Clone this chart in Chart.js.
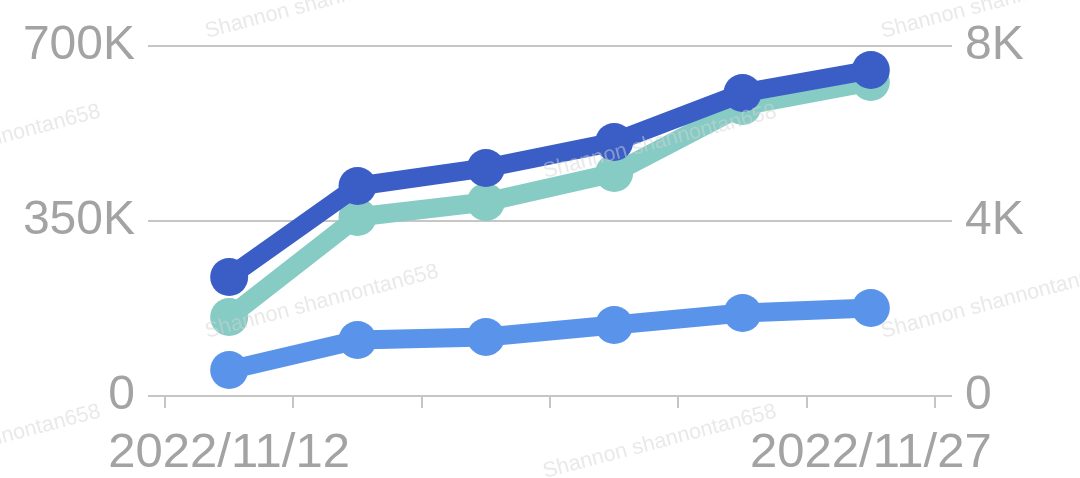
<!DOCTYPE html>
<html>
<head>
<meta charset="utf-8">
<script src="https://cdn.jsdelivr.net/npm/chart.js@4/dist/chart.umd.min.js"></script>
<style>
  html, body { margin: 0; padding: 0; background: #fff; }
  #wrap { width: 1080px; height: 478px; }
</style>
</head>
<body>
<div id="wrap"><canvas id="c"></canvas></div>
<script>
/* data */
const labels      = ['2022/11/12', '2022/11/15', '2022/11/18', '2022/11/21', '2022/11/24', '2022/11/27'];
const seriesDark  = [238000, 420000, 456000, 508000, 606000, 652000];
const seriesTeal  = [158000, 358000, 388000, 446000, 580000, 628000];
const seriesLight = [594, 1280, 1350, 1623, 1897, 2011];   // right axis
const leftTicks   = [0, 350000, 700000];
const rightTicks  = [0, 4000, 8000];
const watermark   = 'Shannon shannontan658';

const GREY_TXT  = '#a3a3a3';
const GREY_LINE = '#c6c6c6';
const FONT      = '"Liberation Sans", Arial, sans-serif';

const fmtK = v => v === 0 ? '0' : (v / 1000) + 'K';

/* faint diagonal watermark, drawn over the chart */
const watermarkPlugin = {
  id: 'watermark',
  afterDraw(chart) {
    const ctx = chart.ctx;
    ctx.save();
    ctx.font = '21.5px ' + FONT;
    ctx.fillStyle = 'rgba(212,212,212,0.5)';
    ctx.textBaseline = 'alphabetic';
    for (let i = 0; i < 4; i++) {
      const x = -131 + 338 * i;
      const y0 = i % 2 ? 38 : 178;
      for (let y = y0; y < 800; y += 300) {
        ctx.save();
        ctx.translate(x, y);
        ctx.rotate(-14.7 * Math.PI / 180);
        ctx.fillText(watermark, 0, 0);
        ctx.restore();
      }
    }
    ctx.restore();
  }
};

const lineSet = (label, data, color, axis) => ({
  label, data, yAxisID: axis,
  borderColor: color,
  backgroundColor: color,
  borderWidth: 19,
  pointRadius: 19,
  pointBorderWidth: 0,
  pointBackgroundColor: color,
  tension: 0,
  fill: false,
});

new Chart(document.getElementById('c'), {
  type: 'line',
  data: {
    labels,
    datasets: [
      lineSet('A', seriesDark,  '#3a5ec5', 'yL'),
      lineSet('B', seriesTeal,  '#86ccc5', 'yL'),
      lineSet('C', seriesLight, '#5a94ea', 'yR'),
    ],
  },
  options: {
    responsive: true,
    maintainAspectRatio: false,
    animation: false,
    events: [],
    layout: { padding: { top: 46, left: 0, right: 0, bottom: 0 } },
    plugins: {
      legend: { display: false },
      tooltip: { enabled: false },
    },
    scales: {
      x: {
        offset: true,
        border: { display: true, color: GREY_LINE, width: 2 },
        grid: {
          offset: true,
          drawOnChartArea: false,
          drawTicks: true,
          tickLength: 12,
          color: GREY_LINE,
          lineWidth: 2,
        },
        ticks: {
          autoSkip: false,
          maxRotation: 0,
          padding: 16,
          color: GREY_TXT,
          font: { family: FONT, size: 49 },
          callback: (v, i) => (i === 0 || i === labels.length - 1) ? labels[i] : '',
        },
        afterFit: s => { s.height = 82; },
      },
      yL: {
        position: 'left',
        min: 0, max: 700000,
        border: { display: false },
        grid: { color: GREY_LINE, lineWidth: 2, tickLength: 17 },
        afterBuildTicks: s => { s.ticks = leftTicks.map(v => ({ value: v })); },
        ticks: {
          padding: 13,
          color: GREY_TXT,
          font: { family: FONT, size: 48 },
          callback: v => fmtK(v),
        },
        afterFit: s => { s.width = 165; },
      },
      yR: {
        position: 'right',
        min: 0, max: 8000,
        border: { display: false },
        grid: { drawOnChartArea: false, color: GREY_LINE, lineWidth: 2, tickLength: 17 },
        afterBuildTicks: s => { s.ticks = rightTicks.map(v => ({ value: v })); },
        ticks: {
          padding: 13,
          color: GREY_TXT,
          font: { family: FONT, size: 48 },
          callback: v => fmtK(v),
        },
        afterFit: s => { s.width = 145; },
      },
    },
  },
  plugins: [watermarkPlugin],
});
</script>
</body>
</html>
